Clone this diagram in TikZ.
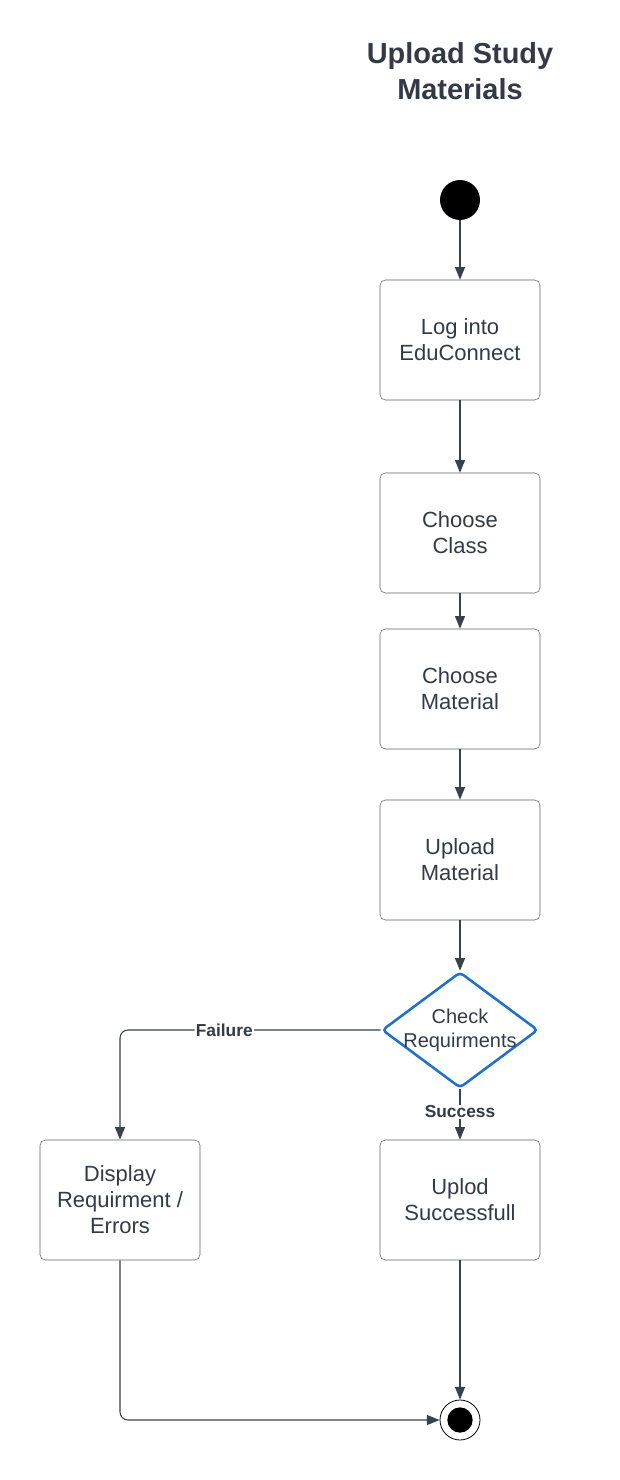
\documentclass[tikz,border=0pt]{standalone}
\usepackage{fontspec}
\setmainfont{Liberation Sans}
\usetikzlibrary{arrows.meta}
\usetikzlibrary{positioning}
\usetikzlibrary{shapes.geometric}
\definecolor{ink}{HTML}{333A45}
\definecolor{edge}{HTML}{3A414A}
\definecolor{boxline}{HTML}{5C6168}
\definecolor{checkblue}{HTML}{1A6FDB}
\tikzset{act/.style = {draw = boxline, rounded corners = 4, text = ink, align = center,
    minimum width = 120pt, minimum height = 90pt, inner sep = 0, font = \fontsize{16.5}{19.5}\selectfont}}
\tikzset{startdot/.style = {fill, circle, inner sep = 0, minimum size = 30pt}}
\tikzset{flow/.style = {draw = edge, line width = 0.8pt, -{Triangle[length = 9.5pt, width = 7.5pt]}}}
\tikzset{guard/.style = {fill = white, text = ink, inner sep = 1pt, font = \fontsize{13}{15}\bfseries\selectfont}}

\begin{document}
\begin{tikzpicture}[x = 0.75pt, y = -0.75pt]
      \useasboundingbox (0, 0) rectangle (620, 1480);
      \node [text = ink, align = center, font = \fontsize{21.7}{26.5}\bfseries\selectfont] (title) at (460, 71) {Upload Study\\Materials};

      \node [startdot] (start) at (460, 200) {};
      \node [act] (login) at (460, 340) {Log into\\EduConnect};
      \node [act] (class) at (460, 533) {Choose\\Class};
      \node [act] (choose) at (460, 689) {Choose\\Material};
      \node [act] (upload) at (460, 860) {Upload\\Material};
      \node [diamond, draw = checkblue, line width = 1.9pt, rounded corners = 3, inner sep = 0,
        aspect = 1.35, minimum width = 117pt, minimum height = 87pt] (check) at (460, 1030) {};
      \node [text = ink, align = center, font = \fontsize{15}{18}\selectfont] (checktext) at (check) {Check\\Requirments};
      \node [act] (errors) at (120, 1200) {Display\\Requirment /\\Errors};
      \node [act] (done) at (460, 1200) {Uplod\\Successfull};
      \node [circle, draw, line width = 0.6pt, inner sep = 0, minimum size = 30pt] (finish) at (460, 1420) {};
      \node [startdot, minimum size = 19pt] at (finish) {};

      \draw [flow] (start) -- (login);
      \draw [flow] (login) -- (class);
      \draw [flow] (class) -- (choose);
      \draw [flow] (choose) -- (upload);
      \draw [flow] (upload) -- (check);
      \draw [flow, rounded corners = 6] (check.west) -| node [guard, pos = 0.3] {Failure} (errors.north);
      \draw [flow] (check.south) -- node [guard, pos = 0.45] {Success} (done.north);
      \draw [flow, rounded corners = 6] (errors.south) |- (finish.west);
      \draw [flow] (done) -- (finish);
    \end{tikzpicture}
\end{document}
